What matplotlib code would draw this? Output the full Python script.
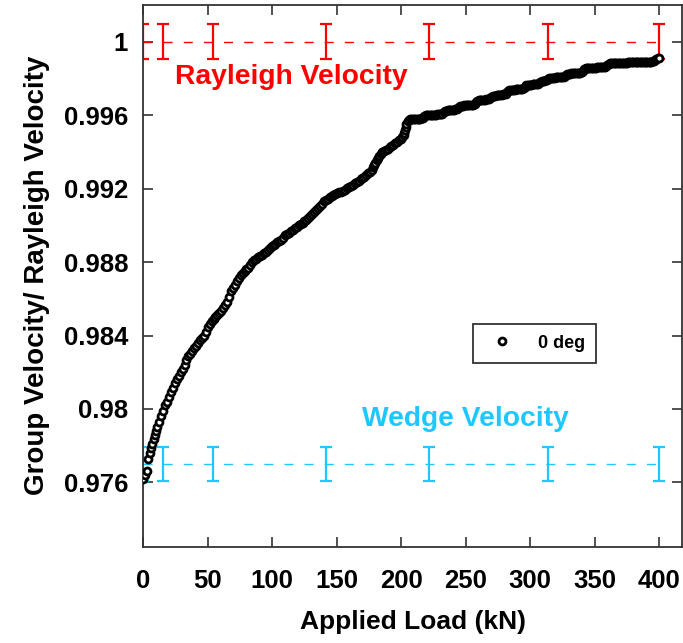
import matplotlib
matplotlib.use("Agg")
import matplotlib.pyplot as plt

plt.rcParams['font.family'] = ['Liberation Sans', 'DejaVu Sans']
plt.rcParams['font.weight'] = 'bold'

# ---- data ----
load_lower = [
    0.0, 1.5, 3.0, 4.0, 5.0, 6.0, 7.0, 8.0, 9.0, 10.0, 11.0, 12.5, 14.0, 15.5, 17.0, 18.5,
    20.0, 21.5, 23.0, 24.5, 26.0, 27.5, 29.0, 30.5, 32.0, 33.5, 35.0, 36.5, 38.0, 39.5,
    41.0, 42.5, 44.0, 45.5, 47.0, 48.5, 50.0, 51.5, 53.0, 54.5, 56.0, 57.5, 59.0, 60.5,
    62.0, 63.5, 65.0, 66.5, 68.0, 69.5, 71.0, 72.5, 74.0, 75.5, 77.0, 78.5, 80.0, 81.5,
    83.0, 84.5, 86.0, 87.5, 89.0, 90.5, 92.0, 93.5, 95.0, 96.5, 98.0, 99.5, 101.0, 102.5,
    104.0, 105.5, 107.0, 108.5, 110.0, 111.5, 113.0, 114.5, 116.0, 117.5, 119.0, 120.5,
    122.0, 123.5, 125.0, 126.5, 128.0, 129.5, 131.0, 132.5, 134.0, 135.5, 137.0, 138.5,
    140.0, 141.5, 143.0, 144.5,
]
ratio_lower = [
    0.97620, 0.97640, 0.97660, 0.97730, 0.97760, 0.97785, 0.97810, 0.97835, 0.97860,
    0.97880, 0.97900, 0.97930, 0.97960, 0.97990, 0.98020, 0.98040, 0.98065, 0.98090,
    0.98115, 0.98140, 0.98165, 0.98180, 0.98200, 0.98220, 0.98240, 0.98265, 0.98290,
    0.98300, 0.98315, 0.98330, 0.98345, 0.98360, 0.98375, 0.98385, 0.98395, 0.98420,
    0.98445, 0.98465, 0.98480, 0.98490, 0.98500, 0.98510, 0.98520, 0.98535, 0.98550,
    0.98565, 0.98580, 0.98610, 0.98640, 0.98660, 0.98675, 0.98695, 0.98715, 0.98730,
    0.98740, 0.98750, 0.98760, 0.98770, 0.98785, 0.98800, 0.98810, 0.98817, 0.98825,
    0.98832, 0.98840, 0.98847, 0.98855, 0.98866, 0.98878, 0.98886, 0.98893, 0.98900,
    0.98908, 0.98915, 0.98922, 0.98933, 0.98945, 0.98953, 0.98961, 0.98969, 0.98977,
    0.98985, 0.98992, 0.99000, 0.99008, 0.99015, 0.99022, 0.99030, 0.99041, 0.99052,
    0.99063, 0.99074, 0.99085, 0.99096, 0.99108, 0.99119, 0.99130, 0.99138, 0.99146,
    0.99154,
]

load_middle = [
    146, 147.5, 149, 150.5, 152, 153.5, 155, 156.5, 158, 159.5, 161, 162.5, 164, 165.5,
    167, 168.5, 170, 171.5, 173, 174.5, 176, 177, 178, 179, 180, 181, 182, 183, 184,
    185, 186.5, 188, 189.5, 191, 192.5, 194, 195.5, 197, 198.5, 200, 201, 202, 202.5,
    203, 203.5, 204, 205,
]
ratio_middle = [
    0.99160, 0.99166, 0.99172, 0.99176, 0.99180, 0.99184, 0.99188, 0.99195, 0.99203,
    0.99210, 0.99215, 0.99221, 0.99228, 0.99236, 0.99243, 0.99250, 0.99257, 0.99265,
    0.99274, 0.99283, 0.99292, 0.99303, 0.99316, 0.99329, 0.99342, 0.99355, 0.99368,
    0.99380, 0.99390, 0.99398, 0.99405, 0.99412, 0.99418, 0.99425, 0.99432, 0.99440,
    0.99448, 0.99456, 0.99464, 0.99472, 0.99480, 0.99490, 0.99505, 0.99520, 0.99535,
    0.99550, 0.99568,
]

load_upper = list(range(206, 401))
ratio_upper = [
    # 206-215
    0.99575, 0.99577, 0.99578, 0.99578, 0.99579, 0.99579, 0.99580, 0.99580, 0.99581, 0.99581,
    # 216-225
    0.99582, 0.99586, 0.99594, 0.99599, 0.99600, 0.99600, 0.99601, 0.99601, 0.99602, 0.99602,
    # 226-235
    0.99603, 0.99603, 0.99604, 0.99604, 0.99605, 0.99605, 0.99608, 0.99615, 0.99622, 0.99625,
    # 236-245
    0.99626, 0.99627, 0.99627, 0.99628, 0.99629, 0.99630, 0.99631, 0.99633, 0.99638, 0.99645,
    # 246-255
    0.99650, 0.99651, 0.99652, 0.99653, 0.99654, 0.99654, 0.99655, 0.99656, 0.99656, 0.99657,
    # 256-265
    0.99658, 0.99662, 0.99670, 0.99677, 0.99680, 0.99681, 0.99682, 0.99683, 0.99684, 0.99685,
    # 266-275
    0.99686, 0.99687, 0.99688, 0.99692, 0.99699, 0.99705, 0.99706, 0.99707, 0.99708, 0.99709,
    # 276-285
    0.99710, 0.99711, 0.99712, 0.99713, 0.99714, 0.99718, 0.99726, 0.99733, 0.99736, 0.99737,
    # 286-295
    0.99738, 0.99739, 0.99739, 0.99740, 0.99741, 0.99741, 0.99742, 0.99743, 0.99744, 0.99748,
    # 296-305
    0.99756, 0.99762, 0.99765, 0.99766, 0.99767, 0.99767, 0.99768, 0.99769, 0.99769, 0.99770,
    # 306-315
    0.99771, 0.99774, 0.99780, 0.99785, 0.99786, 0.99787, 0.99789, 0.99793, 0.99799, 0.99802,
    # 316-325
    0.99803, 0.99804, 0.99804, 0.99805, 0.99806, 0.99806, 0.99807, 0.99808, 0.99808, 0.99809,
    # 326-335
    0.99810, 0.99813, 0.99819, 0.99824, 0.99826, 0.99827, 0.99828, 0.99828, 0.99829, 0.99830,
    # 336-345
    0.99830, 0.99831, 0.99832, 0.99832, 0.99835, 0.99842, 0.99850, 0.99855, 0.99856, 0.99856,
    # 346-355
    0.99857, 0.99857, 0.99858, 0.99858, 0.99859, 0.99859, 0.99860, 0.99860, 0.99861, 0.99861,
    # 356-365
    0.99862, 0.99862, 0.99863, 0.99866, 0.99873, 0.99879, 0.99882, 0.99883, 0.99883, 0.99884,
    # 366-375
    0.99884, 0.99884, 0.99885, 0.99885, 0.99885, 0.99885, 0.99886, 0.99886, 0.99886, 0.99886,
    # 376-385
    0.99887, 0.99887, 0.99887, 0.99887, 0.99888, 0.99888, 0.99888, 0.99888, 0.99888, 0.99889,
    # 386-395
    0.99889, 0.99889, 0.99889, 0.99889, 0.99889, 0.99890, 0.99890, 0.99890, 0.99891, 0.99893,
    # 396-400
    0.99897, 0.99902, 0.99906, 0.99910, 0.99912,
]

errbar_load = [0, 15.5, 54.3, 141.8, 221.7, 314.1, 400]
rayleigh_level = 1.0
wedge_level = 0.977
level_err = 0.00095

x_ticks = [0, 50, 100, 150, 200, 250, 300, 350, 400]
y_ticks = [0.976, 0.98, 0.984, 0.988, 0.992, 0.996, 1.0]
y_tick_labels = ['0.976', '0.98', '0.984', '0.988', '0.992', '0.996', '1']

red = '#FF0000'
cyan = '#1EC8FF'

load_kn = load_lower + load_middle + load_upper
velocity_ratio = ratio_lower + ratio_middle + ratio_upper

fig = plt.figure(figsize=(6.83, 6.43), dpi=100)
ax = fig.add_axes([0.2098, 0.1498, 0.7887, 0.8424])

ax.plot(load_kn, velocity_ratio, linestyle='none', marker='o', markersize=5.0,
        markerfacecolor='white', markeredgecolor='black', markeredgewidth=2.0,
        label='0 deg', zorder=3)

for level, col in [(rayleigh_level, red), (wedge_level, cyan)]:
    ax.plot([errbar_load[0], errbar_load[-1]], [level, level], color=col, lw=1.0,
            dashes=(6.5, 8), zorder=2)
    ax.errorbar(errbar_load, [level] * len(errbar_load), yerr=level_err, fmt='none',
                ecolor=col, elinewidth=1.6, capsize=4, capthick=1.6, zorder=2)

ax.text(24.5, 0.99807, 'Rayleigh Velocity', color=red, fontsize=20.3,
        fontweight='bold', ha='left', va='center')
ax.text(170, 0.97947, 'Wedge Velocity', color=cyan, fontsize=20.3,
        fontweight='bold', ha='left', va='center')

ax.set_xlim(0, 417.8)
ax.set_ylim(0.9725, 1.002)
ax.set_xticks(x_ticks)
ax.set_yticks(y_ticks)
ax.set_yticklabels(y_tick_labels)
ax.tick_params(direction='in', length=7, width=1.2, top=True, right=True,
               labelsize=18.5, colors='#333333', labelcolor='black')
ax.tick_params(axis='x', pad=16)
ax.tick_params(axis='y', pad=11)
for lab in ax.get_xticklabels() + ax.get_yticklabels():
    lab.set_fontweight('bold')
for sp in ax.spines.values():
    sp.set_linewidth(1.3)
    sp.set_color('#333333')

ax.set_xlabel('Applied Load (kN)', fontsize=19, fontweight='bold', labelpad=12)
ax.set_ylabel('Group Velocity/ Rayleigh Velocity', fontsize=20, fontweight='bold',
              labelpad=10)

leg = ax.legend(loc='center', bbox_to_anchor=(0.726, 0.3755), frameon=True,
                fancybox=False, edgecolor='black', fontsize=13, handlelength=2.0,
                handletextpad=1.0, borderpad=0.6, markerscale=1.0)
leg.get_frame().set_linewidth(1.3)
for t in leg.get_texts():
    t.set_fontweight('bold')

fig.savefig('out.png', dpi=100)
